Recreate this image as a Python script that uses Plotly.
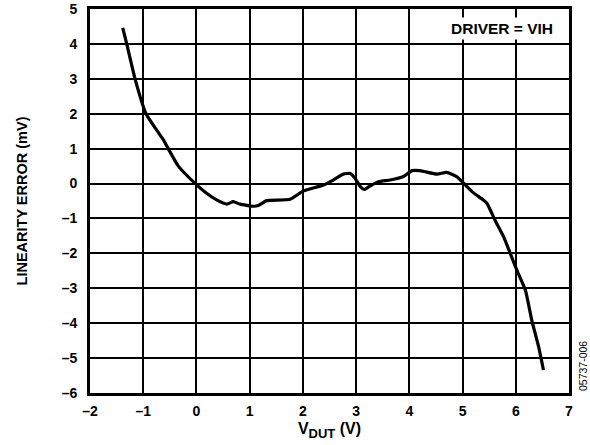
import plotly.graph_objects as go

v_dut = [-1.385, -1.31, -1.154, -0.947, -0.747, -0.62, -0.53, -0.34, -0.03, 0.19, 0.38, 0.57, 0.69,
         0.82, 1.07, 1.16, 1.32, 1.76, 2.01, 2.39, 2.57, 2.76, 2.89, 2.98, 3.08, 3.15, 3.26, 3.42,
         3.64, 3.89, 4.05, 4.20, 4.52, 4.70, 4.89, 5.02, 5.20, 5.39, 5.46, 5.61, 5.77, 6.02, 6.18,
         6.30, 6.43, 6.52]
lin_err = [4.46, 4.0, 3.0, 2.0, 1.53, 1.25, 1.0, 0.5, 0.01, -0.28, -0.47, -0.59, -0.52,
           -0.59, -0.65, -0.63, -0.49, -0.45, -0.21, -0.04, 0.10, 0.27, 0.29, 0.15, -0.09, -0.17,
           -0.07, 0.05, 0.10, 0.20, 0.37, 0.37, 0.27, 0.32, 0.20, 0.01, -0.26, -0.47, -0.57, -1.05,
           -1.52, -2.48, -3.05, -3.91, -4.68, -5.34]

x_ticks = [-2, -1, 0, 1, 2, 3, 4, 5, 6, 7]
y_ticks = [-6, -5, -4, -3, -2, -1, 0, 1, 2, 3, 4, 5]


def lab(v):
    return "<b>" + (("\u2013" + str(-v)) if v < 0 else str(v)) + "</b>"


FF = "Liberation Sans, Arial, sans-serif"

fig = go.Figure()
fig.add_trace(go.Scatter(x=v_dut, y=lin_err, mode="lines",
                         line=dict(color="black", width=3.2, shape="spline", smoothing=0.5),
                         showlegend=False, hoverinfo="skip"))

axis_common = dict(showgrid=True, gridcolor="black", gridwidth=1.6,
                   showline=True, linecolor="black", linewidth=2.6, mirror=True,
                   zeroline=False, ticks="", automargin=False,
                   tickfont=dict(family=FF, size=14, color="black"))

fig.update_xaxes(range=[-2, 7], tickvals=x_ticks, ticktext=[lab(v) for v in x_ticks],
                 ticklabelstandoff=3,
                 title=dict(text="V<sub><span style='font-size:13px'>DUT</span></sub> (V)", standoff=6,
                            font=dict(family=FF, size=16, color="black", weight="bold")),
                 **axis_common)
fig.update_yaxes(range=[-6, 5], tickvals=y_ticks, ticktext=[lab(v) for v in y_ticks],
                 ticklabelstandoff=7,
                 title=dict(text="LINEARITY ERROR (mV)", standoff=31,
                            font=dict(family=FF, size=14.5, color="black", weight="bold")),
                 **axis_common)

fig.add_annotation(x=1.0, y=1.0, xref="paper", yref="paper", xanchor="right", yanchor="top",
                   xshift=-13, yshift=-8,
                   text="DRIVER = VIH", showarrow=False, bgcolor="white", borderpad=2,
                   font=dict(family=FF, size=15.5, color="black", weight="bold"))
fig.add_annotation(x=1.0, y=0.0, xref="paper", yref="paper", xshift=14, yshift=0,
                   xanchor="center", yanchor="bottom", textangle=-90,
                   text="05737-006", showarrow=False,
                   font=dict(family=FF, size=10.5, color="black"))

fig.update_layout(width=590, height=445, margin=dict(l=90, r=21, t=9, b=52, autoexpand=False),
                  plot_bgcolor="white", paper_bgcolor="white")

fig.write_html("out.html", config={"displayModeBar": False},
               post_script="document.body.style.margin='0';")
